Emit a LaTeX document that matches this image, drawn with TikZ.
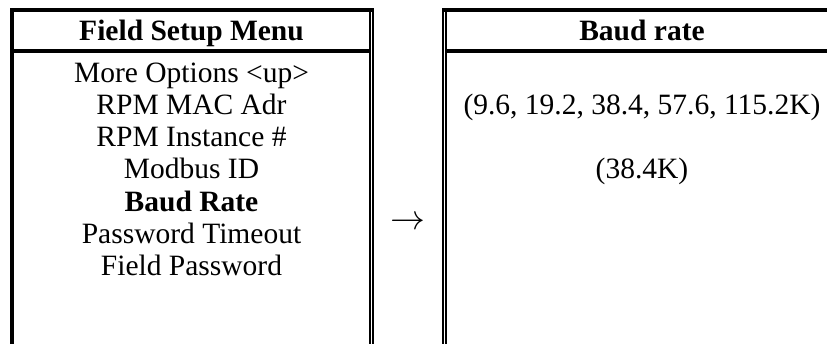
\documentclass[tikz,border=0pt]{standalone}
\usepackage{fontspec}
\setmainfont{Liberation Serif}
\begin{document}
\begin{tikzpicture}[x=1pt,y=-1pt,
  heavyrule/.style={line width=4pt},
  lightrule/.style={line width=1.7pt},
  cell/.style={anchor=base, inner sep=0pt, font=\fontsize{29.5}{32}\selectfont},
  headcell/.style={cell, font=\fontsize{29.5}{32}\selectfont\bfseries}]
\useasboundingbox (0,0) rectangle (827,343);
\begin{scope}
  \clip (0,0) rectangle (827,343);
  % left panel: heavy left and top rules, doubled right rule
  \draw[heavyrule] (12,360) -- (12,10) -- (373.7,10);
  \draw[heavyrule] (14,51) -- (369,51);
  \draw[lightrule] (372.8,8) -- (372.8,360);
  \draw[lightrule] (369.8,12) -- (369.8,360);
  % right panel: doubled left rule, heavy top and header rules
  \draw[lightrule] (443.1,8) -- (443.1,360);
  \draw[lightrule] (446,12) -- (446,360);
  \draw[heavyrule] (442.3,10) -- (840,10);
  \draw[heavyrule] (446.9,51) -- (840,51);
\end{scope}

% menu column
\node[headcell] (menuhead) at (191.5,40) {Field Setup Menu};
\node[cell] (more)    at (191.5,82)    {More Options <up>};
\node[cell] (mac)     at (191.5,114.3) {RPM MAC Adr};
\node[cell] (inst)    at (191.5,146.6) {RPM Instance \#};
\node[cell] (modbus)  at (191.5,178.9) {Modbus ID};
\node[headcell] (baud) at (191.5,211.2) {Baud Rate};
\node[cell] (pwto)    at (191.5,243.5) {Password Timeout};
\node[cell] (pw)      at (191.5,275.8) {Field Password};

% arrow between the panels
\node[anchor=center, inner sep=0pt, scale=1.4] (goto) at (408,223)
  {\fontsize{29.5}{32}\selectfont$\rightarrow$};

% baud rate column
\node[headcell] (baudhead) at (642,40) {Baud rate};
\node[cell] (choices) at (642,114.3) {(9.6, 19.2, 38.4, 57.6, 115.2K)};
\node[cell] (current) at (642,178.9) {(38.4K)};
\end{tikzpicture}
\end{document}
